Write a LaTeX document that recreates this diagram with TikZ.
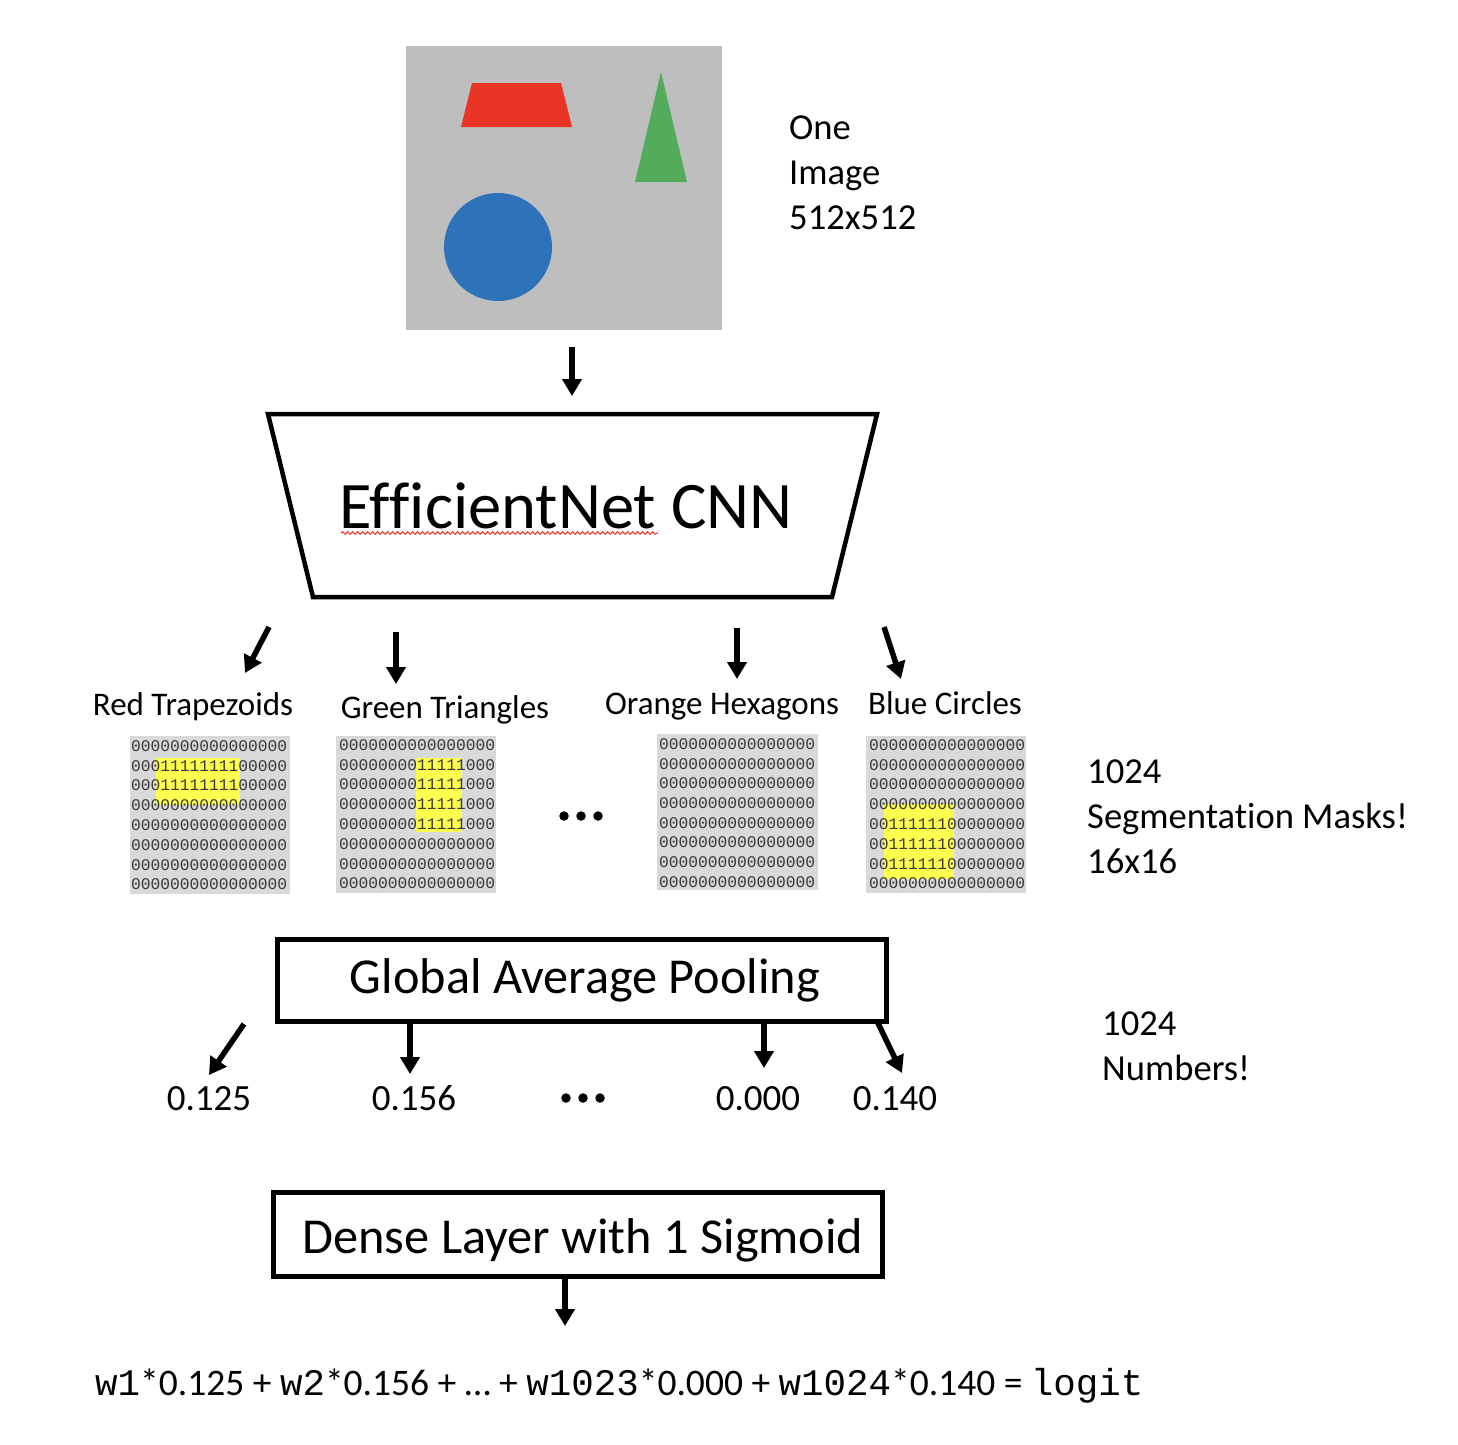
\documentclass[tikz,border=0pt]{standalone}
\usepackage{fontspec}
\setmainfont{Carlito}[Ligatures=NoCommon]
\newfontfamily\monof{Liberation Mono}
\usetikzlibrary{arrows.meta,decorations.pathmorphing}
\definecolor{imggray}{HTML}{BEBEBE}
\definecolor{maskgray}{HTML}{D9D9D9}
\definecolor{maskyel}{HTML}{FFFF4F}
\definecolor{shred}{HTML}{EA3526}
\definecolor{shgreen}{HTML}{52AC5B}
\definecolor{shblue}{HTML}{2E72BA}
\begin{document}
\begin{tikzpicture}[x=1pt,y=-1pt,
  arr/.style={line width=5.5pt,-{Triangle[width=19pt,length=17pt]}},
  bigtxt/.style={font=\fontsize{36.6}{45}\selectfont,anchor=base west,inner sep=0pt,align=left},
  cls/.style={font=\fontsize{33}{40}\selectfont,anchor=base,inner sep=0pt},
  num/.style={font=\fontsize{37}{45}\selectfont,anchor=base,inner sep=0pt},
  boxtxt/.style={font=\fontsize{50.3}{58}\selectfont,anchor=base,inner sep=0pt},
  layerbox/.style={draw,line width=5pt,inner sep=0pt,outer sep=0pt},
  maskdig/.style={font=\monof\fontsize{16.25}{18}\selectfont,anchor=west,inner sep=0pt,text=black!78},
  dotc/.style={circle,fill=black,inner sep=0pt,minimum size=9.5pt}]
\useasboundingbox (0,0) rectangle (1458,1444);

% ---- input image ----
\node[fill=imggray,inner sep=0pt,outer sep=0pt,minimum width=316pt,minimum height=284pt,anchor=north west] (img) at (406,46) {};
\fill[shred] (472,83) -- (561,83) -- (572,127) -- (461,127) -- cycle;
\fill[shgreen] (661,72) -- (687,182) -- (635,182) -- cycle;
\fill[shblue] (498,247) circle[radius=54];
\node[bigtxt] (imglbl) at (789,229) {One\\Image\\512x512};

% ---- CNN ----
\draw[line width=4.5pt,line join=miter] (268,414) -- (877,414) -- (832,597) -- (313,597) -- cycle;
\node[font=\fontsize{66.5}{72}\selectfont,anchor=base,inner sep=0pt] (cnn) at (566,528) {EfficientNet CNN};
\draw[shred,line width=1pt,decorate,decoration={snake,amplitude=1.3pt,segment length=5pt}] (341,533) -- (658,533);

\coordinate (a0s) at (572,347); \coordinate (a0e) at (572,396);
\draw[arr] (a0s) -- (a0e);

% ---- arrows to masks ----
\coordinate (c1s) at (269,627); \coordinate (c1e) at (245,673);
\coordinate (c2s) at (396,632); \coordinate (c2e) at (396,684);
\coordinate (c3s) at (737,628); \coordinate (c3e) at (737,679);
\coordinate (c4s) at (884,627); \coordinate (c4e) at (901,679);
\foreach \k in {1,2,3,4} \draw[arr] (c\k s) -- (c\k e);

% ---- class labels ----
\node[cls] (lred) at (193,715) {Red Trapezoids};
\node[cls] (lgreen) at (445,718) {Green Triangles};
\node[cls] (lorange) at (722,714) {Orange Hexagons};
\node[cls] (lblue) at (945,714) {Blue Circles};

% ---- masks ----
\fill[maskgray] (130,736) rectangle (290,894);
\fill[maskgray] (336,736) rectangle (496,893);
\fill[maskgray] (657,734) rectangle (818,890);
\fill[maskgray] (866,736) rectangle (1026,893);
\fill[maskyel] (156,758) rectangle (240,805);
\fill[maskyel] (416,758) rectangle (462,832);
\fill[maskyel] (884,804) rectangle (954,879);

\foreach \s [count=\i from 0] in {0000000000000000,0001111111100000,0001111111100000,0000000000000000,0000000000000000,0000000000000000,0000000000000000,0000000000000000}
  \node[maskdig] (mr\i) at (131,{746+19.8*\i}) {\s};
\foreach \s [count=\i from 0] in {0000000000000000,0000000011111000,0000000011111000,0000000011111000,0000000011111000,0000000000000000,0000000000000000,0000000000000000}
  \node[maskdig] (mg\i) at (339,{745+19.8*\i}) {\s};
\foreach \s [count=\i from 0] in {0000000000000000,0000000000000000,0000000000000000,0000000000000000,0000000000000000,0000000000000000,0000000000000000,0000000000000000}
  \node[maskdig] (mo\i) at (659,{744+19.7*\i}) {\s};
\foreach \s [count=\i from 0] in {0000000000000000,0000000000000000,0000000000000000,0000000000000000,0011111100000000,0011111100000000,0011111100000000,0000000000000000}
  \node[maskdig] (mb\i) at (869,{745+19.8*\i}) {\s};

\node[dotc] (md1) at (564,816) {};
\node[dotc] (md2) at (581,816) {};
\node[dotc] (md3) at (598,816) {};

\node[bigtxt] (masklbl) at (1087,873) {1024\\Segmentation Masks!\\16x16};

% ---- GAP ----
\node[layerbox,minimum width=609pt,minimum height=82pt,anchor=north west] (gap) at (277,939) {};
\node[boxtxt] (gaptxt) at (585,993) {Global Average Pooling};

\coordinate (g1s) at (244,1024); \coordinate (g1e) at (209,1075);
\coordinate (g2s) at (410,1021); \coordinate (g2e) at (410,1074);
\coordinate (g3s) at (764,1021); \coordinate (g3e) at (764,1068);
\coordinate (g4s) at (877,1021); \coordinate (g4e) at (902,1073);
\foreach \k in {1,2,3,4} \draw[arr] (g\k s) -- (g\k e);

\node[num] (n1) at (209,1110) {0.125};
\node[num] (n2) at (414,1110) {0.156};
\node[num] (n3) at (758,1110) {0.000};
\node[num] (n4) at (895,1110) {0.140};
\node[dotc] (nd1) at (566,1098) {};
\node[dotc] (nd2) at (583,1098) {};
\node[dotc] (nd3) at (600,1098) {};

\node[bigtxt] (numlbl) at (1102,1080) {1024\\Numbers!};

% ---- Dense ----
\node[layerbox,minimum width=609pt,minimum height=84pt,anchor=north west] (dense) at (273,1192) {};
\node[boxtxt] (densetxt) at (583,1253) {Dense Layer with 1 Sigmoid};
\coordinate (d1s) at (565,1276); \coordinate (d1e) at (565,1326);
\draw[arr] (d1s) -- (d1e);

% ---- formula ----
\node[font=\fontsize{37.5}{42}\selectfont,anchor=base west,inner sep=0pt] (formula) at (95,1395)
  {{\monof w1}*0.125 + {\monof w2}*0.156 + \dots{} + {\monof w1023}*0.000 + {\monof w1024}*0.140 = {\monof logit}};
\end{tikzpicture}
\end{document}
